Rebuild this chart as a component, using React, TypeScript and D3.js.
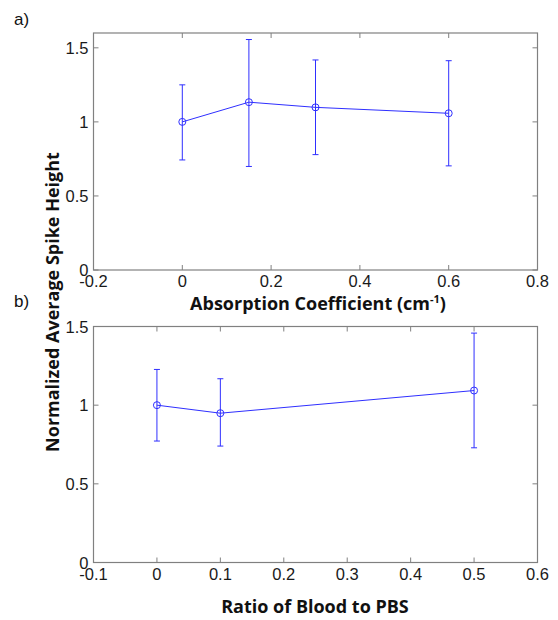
import * as d3 from "d3";
import React, { useEffect, useRef } from "react";

// panel a: absorption coefficient
const absX = [0, 0.15, 0.3, 0.6];
const absY = [1.0, 1.133, 1.098, 1.058];
const absLo = [0.743, 0.699, 0.779, 0.703];
const absHi = [1.25, 1.556, 1.418, 1.413];
const absXTicks = [-0.2, 0, 0.2, 0.4, 0.6, 0.8];
const absYTicks = [0, 0.5, 1, 1.5];

// panel b: blood ratio
const bloodX = [0, 0.1, 0.5];
const bloodY = [1.0, 0.949, 1.093];
const bloodLo = [0.772, 0.74, 0.729];
const bloodHi = [1.227, 1.168, 1.458];
const bloodXTicks = [-0.1, 0, 0.1, 0.2, 0.3, 0.4, 0.5, 0.6];
const bloodYTicks = [0, 0.5, 1, 1.5];

const tickFont = "Liberation Sans, Arial, sans-serif";
const labelFont = "Open Sans, Lato, sans-serif";
const blue = "#2f2fff";
const boxColor = "#808080";
const fmt = (t) => String(t); // plain hyphen minus like the original

const drawPanel = (g, opts) => {
  const { left, top, right, bottom, xDomain, yDomain, xTicks, yTicks, xs, ys, lo, hi } = opts;
  const x = d3.scaleLinear().domain(xDomain).range([left, right]);
  const y = d3.scaleLinear().domain(yDomain).range([bottom, top]);
  const tl = 5;

  g.append("rect")
    .attr("x", left)
    .attr("y", top)
    .attr("width", right - left)
    .attr("height", bottom - top)
    .attr("fill", "none")
    .attr("stroke", boxColor)
    .attr("stroke-width", 1.2);

  // x ticks (bottom and top, pointing inward)
  xTicks.forEach((t) => {
    g.append("line").attr("x1", x(t)).attr("x2", x(t)).attr("y1", bottom).attr("y2", bottom - tl)
      .attr("stroke", boxColor);
    g.append("line").attr("x1", x(t)).attr("x2", x(t)).attr("y1", top).attr("y2", top + tl)
      .attr("stroke", boxColor);
    g.append("text")
      .attr("x", x(t))
      .attr("y", bottom + 17)
      .attr("text-anchor", "middle")
      .attr("font-family", tickFont)
      .attr("font-size", "16.5px")
      .attr("fill", "#1a1a1a")
      .text(fmt(t));
  });

  yTicks.forEach((t) => {
    g.append("line").attr("x1", left).attr("x2", left + tl).attr("y1", y(t)).attr("y2", y(t))
      .attr("stroke", boxColor);
    g.append("line").attr("x1", right).attr("x2", right - tl).attr("y1", y(t)).attr("y2", y(t))
      .attr("stroke", boxColor);
    g.append("text")
      .attr("x", left - 5)
      .attr("y", y(t) + 6)
      .attr("text-anchor", "end")
      .attr("font-family", tickFont)
      .attr("font-size", "16.5px")
      .attr("fill", "#1a1a1a")
      .text(fmt(t));
  });

  const pts = xs.map((v, i) => ({ x: v, y: ys[i], lo: lo[i], hi: hi[i] }));

  // error bars
  pts.forEach((d) => {
    g.append("line").attr("x1", x(d.x)).attr("x2", x(d.x)).attr("y1", y(d.lo)).attr("y2", y(d.hi))
      .attr("stroke", blue).attr("stroke-width", 1);
    [d.lo, d.hi].forEach((v) => {
      g.append("line").attr("x1", x(d.x) - 3).attr("x2", x(d.x) + 3).attr("y1", y(v)).attr("y2", y(v))
        .attr("stroke", blue).attr("stroke-width", 1);
    });
  });

  g.append("path")
    .datum(pts)
    .attr("fill", "none")
    .attr("stroke", blue)
    .attr("stroke-width", 1)
    .attr("d", d3.line().x((d) => x(d.x)).y((d) => y(d.y)));

  g.selectAll(".mk")
    .data(pts)
    .enter()
    .append("circle")
    .attr("cx", (d) => x(d.x))
    .attr("cy", (d) => y(d.y))
    .attr("r", 3.5)
    .attr("fill", "none")
    .attr("stroke", blue)
    .attr("stroke-width", 1);
};

const App = () => {
  const svgRef = useRef(null);

  useEffect(() => {
    const svg = d3.select(svgRef.current);
    svg.selectAll("*").remove();

    const ga = svg.append("g");
    drawPanel(ga, {
      left: 93.5, top: 33, right: 537.5, bottom: 270,
      xDomain: [-0.2, 0.8], yDomain: [0, 1.6],
      xTicks: absXTicks, yTicks: absYTicks,
      xs: absX, ys: absY, lo: absLo, hi: absHi,
    });

    const gb = svg.append("g");
    drawPanel(gb, {
      left: 93.5, top: 326.5, right: 537.5, bottom: 562.5,
      xDomain: [-0.1, 0.6], yDomain: [0, 1.5],
      xTicks: bloodXTicks, yTicks: bloodYTicks,
      xs: bloodX, ys: bloodY, lo: bloodLo, hi: bloodHi,
    });

    // panel letters
    svg.append("text").attr("x", 14).attr("y", 25)
      .attr("font-family", tickFont).attr("font-size", "17px").attr("fill", "#111").text("a)");
    svg.append("text").attr("x", 14).attr("y", 307)
      .attr("font-family", tickFont).attr("font-size", "17px").attr("fill", "#111").text("b)");

    // x labels
    const xa = svg.append("text").attr("x", 318).attr("y", 310)
      .attr("text-anchor", "middle")
      .attr("font-family", labelFont).attr("font-size", "18px").attr("font-weight", "bold")
      .attr("fill", "#111");
    xa.append("tspan").text("Absorption Coefficient (cm");
    xa.append("tspan").attr("font-size", "11px").attr("dy", -7).text("-1");
    xa.append("tspan").attr("dy", 7).text(")");

    svg.append("text").attr("x", 315).attr("y", 613)
      .attr("text-anchor", "middle")
      .attr("font-family", labelFont).attr("font-size", "18px").attr("font-weight", "bold")
      .attr("fill", "#111").text("Ratio of Blood to PBS");

    // y label
    svg.append("text")
      .attr("transform", "translate(59,302) rotate(-90)")
      .attr("text-anchor", "middle")
      .attr("font-family", labelFont).attr("font-size", "18px").attr("font-weight", "bold")
      .attr("fill", "#111").text("Normalized Average Spike Height");
  }, []);

  return (
    <svg ref={svgRef} width="558" height="620" style={{ position: "absolute", left: 0, top: 0, background: "#fff" }}></svg>
  );
};

export default App;
